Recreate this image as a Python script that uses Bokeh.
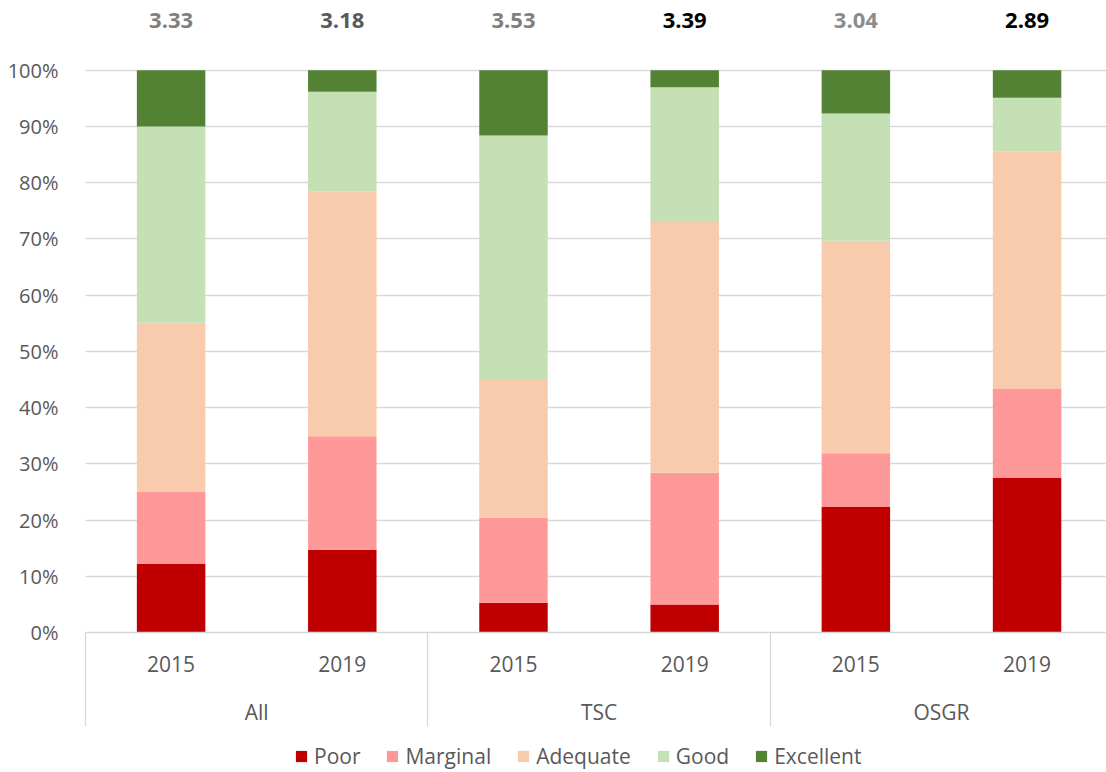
from bokeh.plotting import figure
from bokeh.layouts import column
from bokeh.models import (Range1d, FixedTicker, LinearAxis, NumeralTickFormatter,
                          Legend, LegendItem, ColumnDataSource)
from bokeh.core.properties import value
from bokeh.embed import file_html
from bokeh.resources import INLINE

# ---- data ----
groups = ["All", "TSC", "OSGR"]
years = ["2015", "2019", "2015", "2019", "2015", "2019"]
levels = ["Poor", "Marginal", "Adequate", "Good", "Excellent"]
poor = [0.122, 0.147, 0.053, 0.050, 0.223, 0.275]
marginal = [0.129, 0.202, 0.151, 0.234, 0.096, 0.158]
adequate = [0.300, 0.435, 0.247, 0.446, 0.378, 0.422]
good = [0.349, 0.178, 0.433, 0.240, 0.226, 0.096]
excellent = [0.100, 0.038, 0.116, 0.030, 0.077, 0.049]
scores = ["3.33", "3.18", "3.53", "3.39", "3.04", "2.89"]
score_colors = ["#7f7f7f", "#595959", "#7f7f7f", "#000000", "#8c8c8c", "#000000"]
colors = ["#C00000", "#FF9999", "#F8CBAD", "#C5E0B4", "#548235"]

FONT = "Open Sans"
TXT = "#595959"
GRID = "#d9d9d9"

n = len(years)
xs = [i + 0.5 for i in range(n)]

src = ColumnDataSource(dict(x=xs, Poor=poor, Marginal=marginal, Adequate=adequate,
                            Good=good, Excellent=excellent))

W = 1106
p = figure(width=W, height=728, output_backend="svg", toolbar_location=None,
           x_range=Range1d(0, 5.964), y_range=Range1d(0, 1.1241),
           x_axis_location=None, y_axis_location=None,
           min_border_left=85, min_border_right=0, min_border_top=0, min_border_bottom=94)
p.outline_line_color = None
p.background_fill_color = "white"
p.xgrid.visible = False

renderers = p.vbar_stack(levels, x="x", width=0.4, source=src, color=colors, line_color=None)

# y axis
yaxis = LinearAxis(ticker=FixedTicker(ticks=[i / 10 for i in range(11)]),
                   formatter=NumeralTickFormatter(format="0%"))
yaxis.axis_line_color = None
yaxis.major_tick_line_color = None
yaxis.minor_tick_line_color = None
yaxis.major_label_standoff = 21
yaxis.major_label_text_font = FONT
yaxis.major_label_text_font_size = "20px"
yaxis.major_label_text_color = TXT
p.add_layout(yaxis, "left")
p.ygrid.ticker = FixedTicker(ticks=[i / 10 for i in range(11)])
p.ygrid.grid_line_color = GRID
p.ygrid.grid_line_width = 1.3

# year axis with group separators as minor ticks
xaxis = LinearAxis(ticker=FixedTicker(ticks=xs, minor_ticks=[0, 2, 4, 6]))
xaxis.major_label_overrides = {x: y for x, y in zip(xs, years)}
xaxis.axis_line_color = GRID
xaxis.axis_line_width = 1.3
xaxis.major_tick_line_color = None
xaxis.major_tick_out = 0
xaxis.major_tick_in = 0
xaxis.minor_tick_line_color = GRID
xaxis.minor_tick_line_width = 1.3
xaxis.minor_tick_in = 0
xaxis.minor_tick_out = 94
xaxis.major_label_standoff = -71
xaxis.major_label_text_font = FONT
xaxis.major_label_text_font_size = "21px"
xaxis.major_label_text_color = TXT
p.add_layout(xaxis, "below")

# group axis
gx = [2 * i + 1 for i in range(len(groups))]
gaxis = LinearAxis(ticker=FixedTicker(ticks=gx))
gaxis.major_label_overrides = {x: g for x, g in zip(gx, groups)}
gaxis.axis_line_color = None
gaxis.major_tick_line_color = None
gaxis.minor_tick_line_color = None
gaxis.major_tick_out = 0
gaxis.major_tick_in = 0
gaxis.major_label_standoff = 23
gaxis.major_label_text_font = FONT
gaxis.major_label_text_font_size = "21px"
gaxis.major_label_text_color = TXT
p.add_layout(gaxis, "below")

# score labels above bars
ssrc = ColumnDataSource(dict(x=xs, y=[1.0887] * n, t=scores, c=score_colors))
p.text(x="x", y="y", text="t", text_color="c", source=ssrc, text_font=value(FONT),
       text_font_style="bold", text_font_size="22px", text_align="center",
       text_baseline="middle")

# legend strip (same series drawn out of view, only used for legend swatches)
p2 = figure(width=W, height=44, output_backend="svg", toolbar_location=None,
            x_range=Range1d(-20, -19), y_range=Range1d(0, 1),
            x_axis_location=None, y_axis_location=None,
            min_border_left=0, min_border_right=0, min_border_top=0, min_border_bottom=0)
p2.outline_line_color = None
p2.grid.visible = False
leg_r = p2.vbar_stack(levels, x="x", width=0.4, source=src, color=colors, line_color=None)
legend = Legend(items=[LegendItem(label=l, renderers=[r]) for l, r in zip(levels, leg_r)],
                orientation="horizontal", location=(209, 2))
legend.glyph_width = 14
legend.glyph_height = 14
legend.label_standoff = 6
legend.spacing = 25
legend.padding = 0
legend.margin = 0
legend.border_line_color = None
legend.background_fill_alpha = 0
legend.label_text_font = FONT
legend.label_text_font_size = "21px"
legend.label_text_color = TXT
p2.add_layout(legend, "center")

open("out.html", "w").write(file_html(column(p, p2, spacing=0), INLINE))
